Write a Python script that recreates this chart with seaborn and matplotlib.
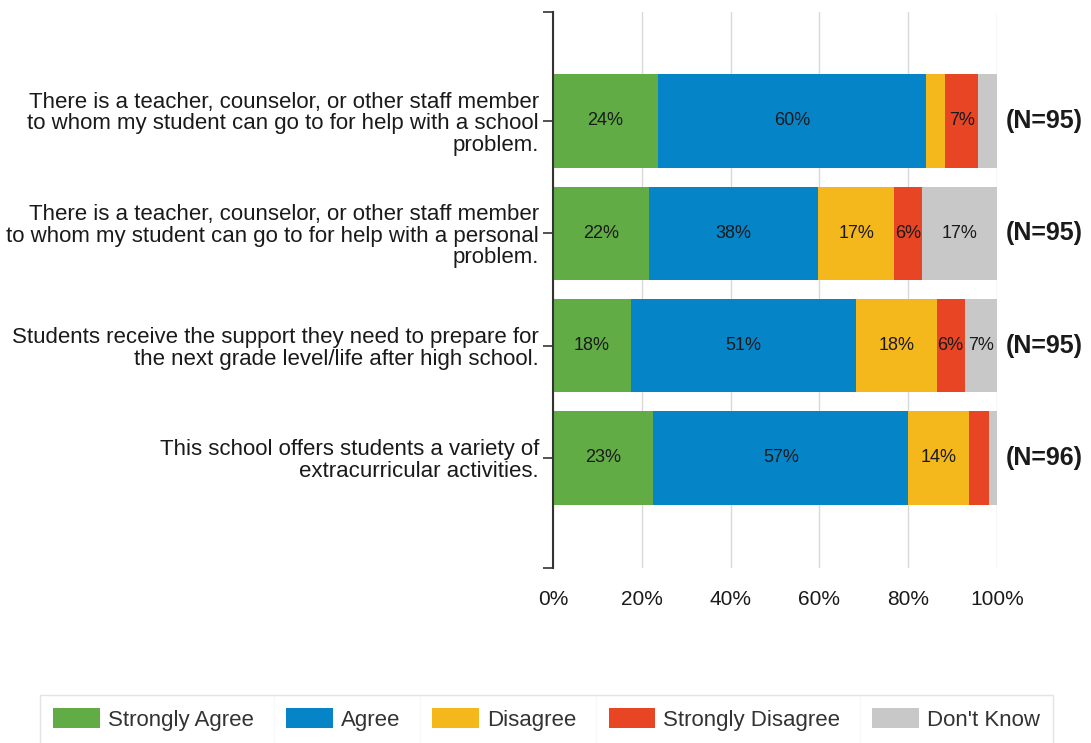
import numpy as np
import pandas as pd
import matplotlib
matplotlib.use("Agg")
import matplotlib.pyplot as plt
from matplotlib.lines import Line2D
from matplotlib.patches import Patch
import seaborn as sns

# data (percent of responses)
questions = [
    "There is a teacher, counselor, or other staff member\nto whom my student can go to for help with a school\nproblem.",
    "There is a teacher, counselor, or other staff member\nto whom my student can go to for help with a personal\nproblem.",
    "Students receive the support they need to prepare for\nthe next grade level/life after high school.",
    "This school offers students a variety of\nextracurricular activities.",
]
strongly_agree = [23.6, 21.6, 17.6, 22.6]
agree = [60.4, 38.1, 50.7, 57.4]
disagree = [4.4, 17.2, 18.1, 13.6]
strongly_disagree = [7.3, 6.3, 6.3, 4.5]
dont_know = [4.3, 16.8, 7.3, 1.9]
n_counts = [95, 95, 95, 96]

series_names = ["Strongly Agree", "Agree", "Disagree", "Strongly Disagree", "Don't Know"]
series_vals = [strongly_agree, agree, disagree, strongly_disagree, dont_know]
colors = ["#62AC46", "#0585C8", "#F4B81C", "#E84525", "#C8C8C8"]
x_ticks = [0, 20, 40, 60, 80, 100]

sns.set_theme(style="white")
plt.rcParams['font.family'] = ['Liberation Sans', 'DejaVu Sans']

fig = plt.figure(figsize=(10.91, 7.43), dpi=100)
ax = fig.add_axes([553 / 1091, 1 - 568 / 743, 444 / 1091, 556 / 743])

vals = np.array(series_vals)
cum = np.cumsum(vals, axis=0)

# stacked bars: draw cumulative totals from the back to the front
for i in range(len(series_names) - 1, -1, -1):
    df = pd.DataFrame({"question": questions, "cum": cum[i]})
    sns.barplot(data=df, x="cum", y="question", orient="h", color=colors[i],
                saturation=1, width=0.83, linewidth=0, ax=ax, zorder=2)

# segment labels
for i in range(len(series_names)):
    for j in range(len(questions)):
        v = vals[i, j]
        if v >= 5:
            ax.text(cum[i, j] - v / 2, j, f"{v:.0f}%", ha="center", va="center",
                    fontsize=13, color="#1a1a1a", zorder=3)

# N labels to the right
for j, n in enumerate(n_counts):
    ax.annotate(f"(N={n})", xy=(1, j), xycoords=("axes fraction", "data"),
                xytext=(6, 0), textcoords="offset points", ha="left", va="center",
                fontsize=18, fontweight="bold", color="#1a1a1a")

ax.set_xlim(0, 100)
ax.set_ylim(3.98, -0.97)
ax.set_xticks(x_ticks)
ax.set_xticklabels([f"{t}%" for t in x_ticks])
ax.set_xlabel("")
ax.set_ylabel("")
ax.xaxis.grid(True, color="#D9D9D9", linewidth=1, zorder=0)
ax.set_axisbelow(True)

for s in ["top", "right", "bottom"]:
    ax.spines[s].set_visible(False)
ax.spines["left"].set_color("#333333")
ax.spines["left"].set_linewidth(1.5)

ax.tick_params(axis="x", length=0, pad=16, labelsize=15, labelcolor="#1a1a1a")
ax.tick_params(axis="y", which="both", left=True, length=7, width=1.2, color="#333333",
               pad=3, labelsize=16, labelcolor="#1a1a1a")
for lbl in ax.get_yticklabels():
    lbl.set_linespacing(1.05)
ax.set_yticks(list(ax.get_ylim()), minor=True)

# legend at the bottom
handles = [Patch(facecolor=c, edgecolor="none") for c in colors]
leg = fig.legend(handles, series_names, loc="upper left",
                 bbox_to_anchor=(40 / 1091, 1 - 695 / 743), ncol=5,
                 fontsize=16, frameon=True, fancybox=False, edgecolor="#DDDDDD",
                 handlelength=2.1, handleheight=1.0, handletextpad=0.36,
                 columnspacing=1.45, borderpad=0.6, borderaxespad=0)
leg.get_frame().set_linewidth(1)
for t in leg.get_texts():
    t.set_color("#333333")

# thin separators between the legend entries
fig.canvas.draw()
r = fig.canvas.get_renderer()
fb = leg.get_frame().get_window_extent(r)
texts = leg.get_texts()
hs = leg.legend_handles
inv = fig.transFigure.inverted()
for k in range(1, len(hs)):
    x0 = texts[k - 1].get_window_extent(r).x1
    x1 = hs[k].get_window_extent(r).x0
    xm = (x0 + x1) / 2 + 4
    (fx, fy0) = inv.transform((xm, fb.y0))
    (_, fy1) = inv.transform((xm, fb.y1))
    fig.add_artist(Line2D([fx, fx], [fy0, fy1], color="#DDDDDD", linewidth=1,
                          transform=fig.transFigure))

fig.savefig("out.png", dpi=100)
